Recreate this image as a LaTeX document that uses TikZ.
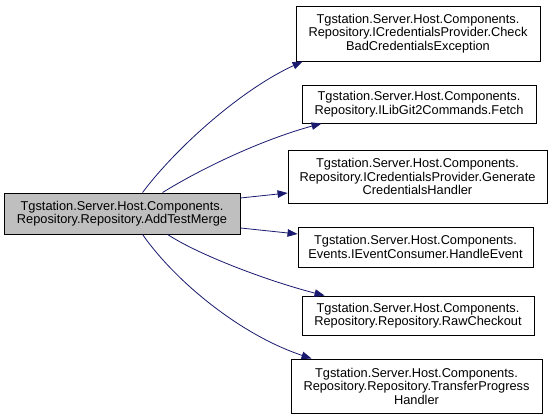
\documentclass[tikz,border=0pt]{standalone}
\usepackage{fontspec}
\setmainfont{Liberation Sans}
\usetikzlibrary{arrows.meta}
\definecolor{edgeblue}{HTML}{191970}
\definecolor{srcgray}{HTML}{BFBFBF}
\tikzset{
  box/.style={draw=black, line width=0.9pt, fill=white, align=center, inner xsep=0pt, inner ysep=0pt,
    font=\fontsize{12.8pt}{13.5pt}\selectfont},
  srcbox/.style={box, fill=srcgray},
  call/.style={draw=edgeblue, line width=0.8pt, -{Triangle[length=10pt,width=7.5pt]}, fill=none},
}
\begin{document}
\begin{tikzpicture}[x=1pt,y=-1pt]
\useasboundingbox (0,0) rectangle (552,420);
\fill[white] (0,0) rectangle (552,420);

\node[srcbox, minimum width=236pt, minimum height=41pt] (src) at (122,213.5)
  {Tgstation.Server.Host.Components.\\Repository.Repository.AddTestMerge};

\node[box, minimum width=244pt, minimum height=55pt] (b1) at (418,33.5)
  {Tgstation.Server.Host.Components.\\Repository.ICredentialsProvider.Check\\BadCredentialsException};
\node[box, minimum width=234pt, minimum height=38pt] (b2) at (419,104)
  {Tgstation.Server.Host.Components.\\Repository.ILibGit2Commands.Fetch};
\node[box, minimum width=259pt, minimum height=53pt] (b3) at (417.5,176.5)
  {Tgstation.Server.Host.Components.\\Repository.ICredentialsProvider.Generate\\CredentialsHandler};
\node[box, minimum width=235pt, minimum height=40pt] (b4) at (415.5,247)
  {Tgstation.Server.Host.Components.\\Events.IEventConsumer.HandleEvent};
\node[box, minimum width=232pt, minimum height=39pt] (b5) at (418,315.5)
  {Tgstation.Server.Host.Components.\\Repository.Repository.RawCheckout};
\node[box, minimum width=251pt, minimum height=54pt] (b6) at (416.5,386)
  {Tgstation.Server.Host.Components.\\Repository.Repository.TransferProgress\\Handler};

\draw[call] ([xshift=139pt]src.north west) .. controls +(32,-43) and +(-63,29) .. ([xshift=7pt]b1.south west);
\draw[call] ([xshift=159pt]src.north west) .. controls +(37,-23) and +(-62,17) .. ([xshift=20pt]b2.south west);
\draw[call] ([yshift=15.5pt]src.east) -- ([yshift=-16.5pt]b3.west);
\draw[call] ([yshift=-14.5pt]src.east) -- ([yshift=13pt]b4.west);
\draw[call] ([xshift=164pt]src.south west) .. controls +(32,21) and +(-55,-14) .. ([xshift=23pt]b5.north west);
\draw[call] ([xshift=139pt]src.south west) .. controls +(32,46) and +(-72,-24) .. ([xshift=21pt]b6.north west);
\end{tikzpicture}
\end{document}
